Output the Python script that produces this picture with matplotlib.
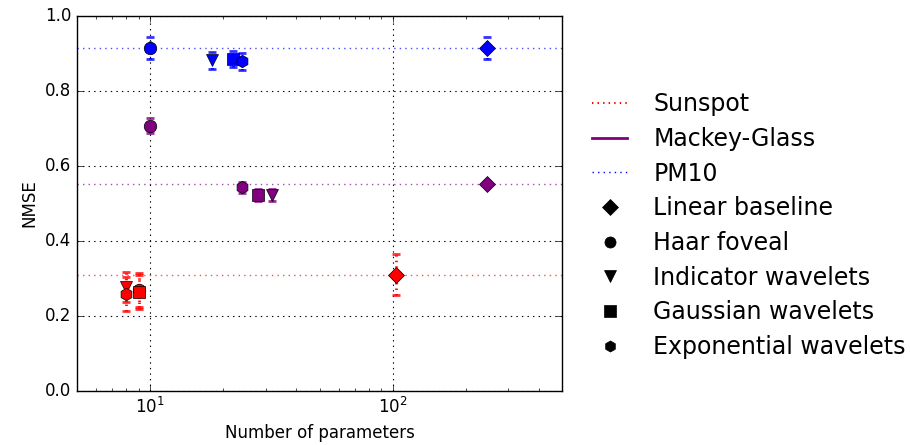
import matplotlib
matplotlib.use("Agg")
import matplotlib.pyplot as plt
from matplotlib.lines import Line2D

# Data
datasets = ["Sunspot", "Mackey-Glass", "PM10"]
colors = {"Sunspot": "red", "Mackey-Glass": "purple", "PM10": "blue"}
methods = ["Linear baseline", "Haar foveal", "Indicator wavelets", "Gaussian wavelets", "Exponential wavelets"]
markers = {"Linear baseline": "D", "Haar foveal": "o", "Indicator wavelets": "v",
           "Gaussian wavelets": "s", "Exponential wavelets": "h"}

# (params, nmse, err) per dataset per method
sunspot_params = [103, 9, 8, 9, 8]
sunspot_nmse = [0.31, 0.27, 0.277, 0.265, 0.258]
sunspot_err = [0.055, 0.045, 0.04, 0.045, 0.045]

mackey_params = [245, 10, 32, 28, 24]
mackey_nmse = [0.553, 0.707, 0.523, 0.523, 0.543]
mackey_err = [0.006, 0.02, 0.015, 0.015, 0.015]

pm10_params = [245, 10, 18, 22, 24]
pm10_nmse = [0.915, 0.915, 0.882, 0.886, 0.879]
pm10_err = [0.03, 0.03, 0.022, 0.022, 0.022]

baselines = {"Sunspot": 0.31, "Mackey-Glass": 0.553, "PM10": 0.915}

plt.style.use("classic")
plt.rcParams["figure.facecolor"] = "white"
plt.rcParams["savefig.facecolor"] = "white"

fig = plt.figure(figsize=(9.1, 4.45), dpi=100)
ax = fig.add_axes([0.0846, 0.1213, 0.533, 0.8427])

series = {
    "Sunspot": (sunspot_params, sunspot_nmse, sunspot_err),
    "Mackey-Glass": (mackey_params, mackey_nmse, mackey_err),
    "PM10": (pm10_params, pm10_nmse, pm10_err),
}

for ds in datasets:
    c = colors[ds]
    ax.axhline(baselines[ds], color=c, linestyle=":", linewidth=1.0, alpha=0.7, zorder=1)
    p, v, e = series[ds]
    for i, m in enumerate(methods):
        eb = ax.errorbar(p[i], v[i], yerr=e[i], fmt=markers[m], color=c, mfc=c, mec="black",
                         ms=9 if m != "Linear baseline" else 8, ecolor=c, elinewidth=2,
                         capsize=3, capthick=2, zorder=3)
        for lc in eb[2]:
            lc.set_linestyle(":")
        for cap in eb[1]:
            cap.set_alpha(0.8)

ax.set_xscale("log")
ax.set_xlim(5, 500)
ax.set_ylim(0, 1.0)
ax.set_yticks([0.0, 0.2, 0.4, 0.6, 0.8, 1.0])
ax.grid(True, color="black", linestyle=":", linewidth=0.8)
ax.set_xlabel("Number of parameters", fontsize=12)
ax.set_ylabel("NMSE", fontsize=12)
ax.tick_params(labelsize=12)

handles = [
    Line2D([], [], color="red", linestyle=":", linewidth=1.5),
    Line2D([], [], color="purple", linestyle="-", linewidth=2),
    Line2D([], [], color="blue", linestyle=":", linewidth=1.0),
]
for m in methods:
    handles.append(Line2D([], [], color="black", marker=markers[m], linestyle="none", ms=8))
labels = datasets + methods
fig.legend(handles, labels, loc="center left", bbox_to_anchor=(0.627, 0.493),
           frameon=False, fontsize=17, numpoints=1, handlelength=1.5, labelspacing=0.45,
           handletextpad=1.1)

fig.savefig("out.png", dpi=100)
